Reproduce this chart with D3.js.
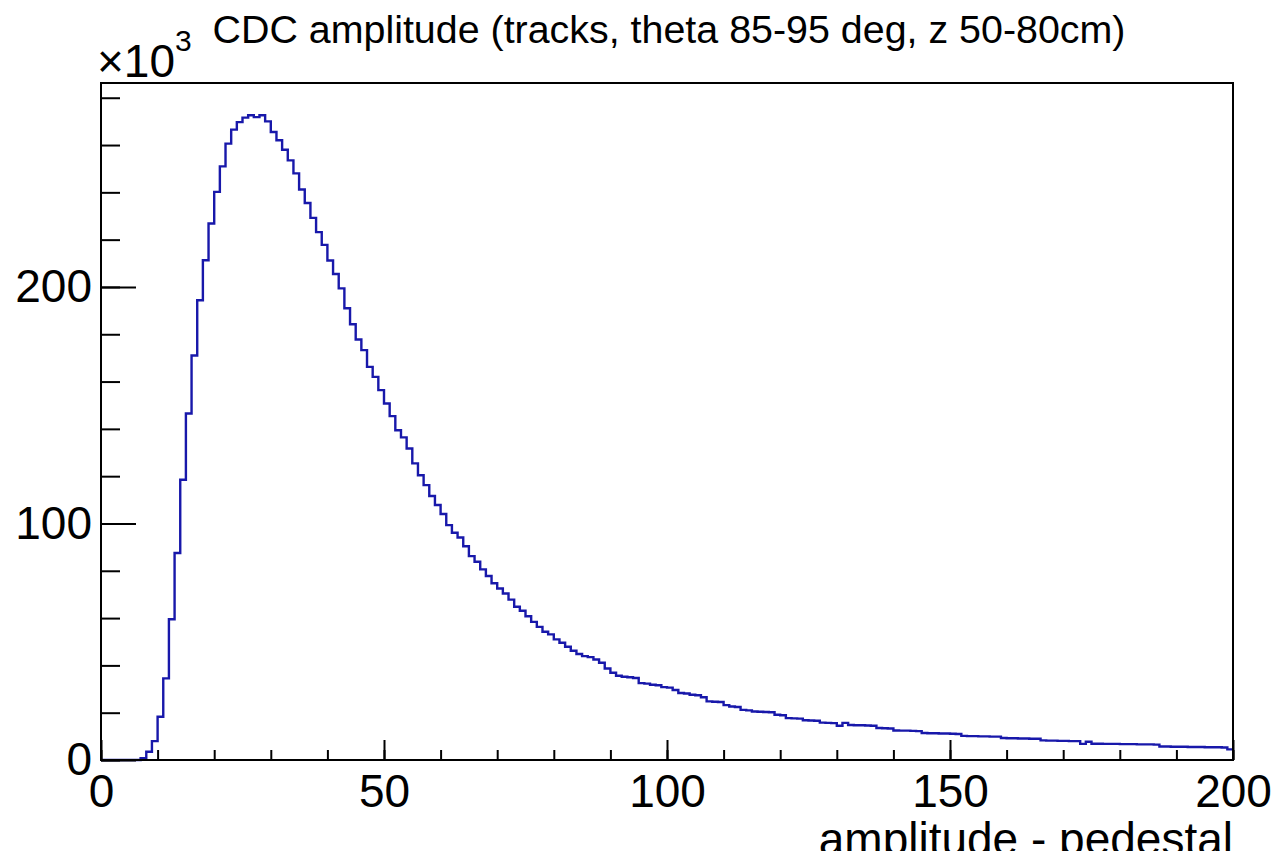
<!DOCTYPE html>
<html>
<head>
<meta charset="utf-8">
<script src="https://cdn.jsdelivr.net/npm/d3@7"></script>
<style>
  body { margin: 0; background: #fff; }
  svg { display: block; }
  text { font-family: "Liberation Sans", Arial, Helvetica, sans-serif; }
</style>
</head>
<body>
<div id="chart"></div>
<script>
'use strict';

// histogram: 200 bins of width 1, counts in units of 10^3
const binLow = 0;
const binHigh = 200;
const counts = [
  0, 0, 0, 0, 0, 0, 0, 0.8, 3.5, 8.0,
  18.3, 34.5, 59.5, 87.5, 118.5, 146.5, 171, 194.4, 211.3, 226.8,
  240.2, 251, 260.6, 266.5, 269.7, 271.6, 272.6, 271.8, 272.6, 270,
  265.5, 262, 258, 253.5, 248, 241.2, 235.5, 229.2, 223.2, 217.8,
  211.2, 205.5, 199.4, 191, 184.2, 177.8, 173.3, 166.2, 162, 156.4,
  150.7, 145.4, 139.4, 136.4, 131.7, 125.4, 120.4, 116.2, 111.6, 107.8,
  104, 99.3, 96.1, 94.1, 90.4, 86.2, 83.8, 80.6, 77.8, 74.7,
  72.5, 70.4, 67.8, 64.8, 63.1, 60.8, 58.4, 56.3, 54.2, 53.1,
  51, 49.6, 47.9, 46.2, 44.8, 43.9, 43.5, 42.5, 41.1, 38.7,
  36.9, 35.6, 35.2, 35.0, 34.7, 32.5, 32.3, 31.8, 31.6, 30.8,
  30.6, 29.6, 28.3, 28.1, 27.6, 27.4, 26.5, 24.8, 24.6, 24.5,
  23.2, 22.6, 22.4, 21.2, 21.0, 20.5, 20.4, 20.3, 20.2, 19.1,
  18.9, 17.7, 17.6, 17.5, 16.8, 16.7, 16.6, 15.8, 15.7, 15.6,
  14.5, 15.7, 14.8, 14.7, 14.7, 14.6, 14.5, 13.5, 13.4, 13.3,
  12.5, 12.4, 12.4, 12.3, 12.2, 11.4, 11.3, 11.3, 11.2, 11.2,
  11.1, 11.0, 10.2, 10.1, 10.1, 10.0, 10.0, 9.9, 9.9, 9.3,
  9.2, 9.2, 9.1, 9.1, 9.0, 9.0, 8.3, 8.2, 8.2, 8.1,
  8.1, 8.0, 8.0, 6.8, 7.7, 6.9, 6.9, 6.8, 6.8, 6.8,
  6.7, 6.7, 6.7, 6.6, 6.6, 6.6, 6.5, 5.7, 5.7, 5.6,
  5.6, 5.6, 5.5, 5.5, 5.5, 5.4, 5.4, 5.4, 5.3, 4.5
];

const xMajorTicks = [0, 50, 100, 150, 200];
const xMinorTicks = d3.range(0, 201, 10);
const yMajorTicks = [0, 100, 200];
const yMinorTicks = d3.range(0, 281, 20);

const titleText = 'CDC amplitude (tracks, theta 85-95 deg, z 50-80cm)';
const xTitle = 'amplitude - pedestal';

function drawHist(elementID) {
  const width = 1278;
  const height = 851;
  const frame = { left: 101, right: 1233, top: 83, bottom: 760 };

  const binWidth = (binHigh - binLow) / counts.length;
  const ymax = d3.max(counts) * 1.05; // ROOT leaves 5% headroom

  const scaleX = d3.scaleLinear()
    .domain([binLow, binHigh])
    .range([frame.left, frame.right]);

  const scaleY = d3.scaleLinear()
    .domain([0, ymax])
    .range([frame.bottom, frame.top]);

  document.getElementById(elementID).innerHTML = '';
  const svg = d3.select('#' + elementID)
    .append('svg')
    .attr('width', width)
    .attr('height', height);

  // contorno del histograma (step)
  const pts = counts.map((c, i) => [binLow + i * binWidth, c]);
  pts.push([binHigh, counts[counts.length - 1]]);

  const line = d3.line()
    .x(d => scaleX(d[0]))
    .y(d => scaleY(d[1]))
    .curve(d3.curveStepAfter);

  svg.append('path')
    .datum(pts)
    .attr('fill', 'none')
    .attr('stroke', '#1818aa')
    .attr('stroke-width', 2.4)
    .attr('d', line);

  // eje X
  svg.append('g')
    .attr('transform', `translate(0, ${frame.bottom})`)
    .call(d3.axisBottom(scaleX).tickValues(xMinorTicks).tickSize(-10).tickFormat(''))
    .call(g => g.select('.domain').remove());

  svg.append('g')
    .attr('transform', `translate(0, ${frame.bottom})`)
    .call(d3.axisBottom(scaleX).tickValues(xMajorTicks).tickSize(-20).tickPadding(14))
    .call(g => g.select('.domain').remove())
    .call(g => g.selectAll('text').attr('font-size', 46).attr('fill', '#000'));

  // eje Y
  svg.append('g')
    .attr('transform', `translate(${frame.left}, 0)`)
    .call(d3.axisLeft(scaleY).tickValues(yMinorTicks).tickSize(-19).tickFormat(''))
    .call(g => g.select('.domain').remove());

  svg.append('g')
    .attr('transform', `translate(${frame.left}, 0)`)
    .call(d3.axisLeft(scaleY).tickValues(yMajorTicks).tickSize(-35).tickPadding(9))
    .call(g => g.select('.domain').remove())
    .call(g => g.selectAll('text').attr('font-size', 46).attr('fill', '#000'));

  svg.selectAll('.tick line')
    .attr('stroke', '#000')
    .attr('stroke-width', 2);

  // marco
  svg.append('rect')
    .attr('x', frame.left)
    .attr('y', frame.top)
    .attr('width', frame.right - frame.left)
    .attr('height', frame.bottom - frame.top)
    .attr('fill', 'none')
    .attr('stroke', '#000')
    .attr('stroke-width', 2);

  // titulo
  svg.append('text')
    .attr('x', 669)
    .attr('y', 43)
    .attr('text-anchor', 'middle')
    .attr('font-size', 39.4)
    .text(titleText);

  // x10^3
  const mult = svg.append('text')
    .attr('x', 97)
    .attr('y', 77)
    .attr('font-size', 46);
  mult.append('tspan').text('\u00d710');
  mult.append('tspan')
    .attr('font-size', 30)
    .attr('dy', -26)
    .text('3');

  // titulo eje X (cortado por el borde, como en el original)
  svg.append('text')
    .attr('x', frame.right)
    .attr('y', 855)
    .attr('text-anchor', 'end')
    .attr('font-size', 46)
    .text(xTitle);
}

drawHist('chart');
</script>
</body>
</html>
